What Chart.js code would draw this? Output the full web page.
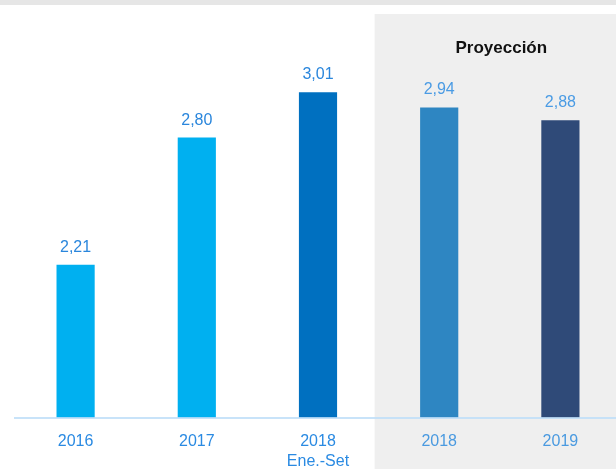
<!DOCTYPE html>
<html>
<head>
<meta charset="utf-8">
<script src="https://cdn.jsdelivr.net/npm/chart.js@4/dist/chart.umd.min.js"></script>
<style>
  body { margin: 0; background: #fff; overflow: hidden; }
  #wrap { width: 621px; height: 469px; position: relative; }
</style>
</head>
<body>
<div id="wrap"><canvas id="barChart"></canvas></div>
<script>
const labels = ['2016', '2017', ['2018', 'Ene.-Set'], '2018', '2019'];
const values = [2.21, 2.80, 3.01, 2.94, 2.88];
const valueText = ['2,21', '2,80', '3,01', '2,94', '2,88'];
const barColors = ['#00b0f0', '#00b0f0', '#0070c0', '#2e86c2', '#2f4a78'];
const labelColors = ['#2a86dc', '#2a86dc', '#2a86dc', '#4a9be4', '#4a9be4'];
const tickColors = ['#2a8ae2', '#2a8ae2', '#2a8ae2', '#4a9ae0', '#4a9ae0'];
const projTitle = 'Proyección';

const FONT = '"Liberation Sans", Arial, sans-serif';
const VIEW_W = 616;

// gray bands, projection title, value labels and the axis line
const decor = {
    id: 'decor',
    beforeDraw(chart) {
        const { ctx, scales: { x } } = chart;
        const split = (x.getPixelForValue(2) + x.getPixelForValue(3)) / 2;
        ctx.save();
        ctx.fillStyle = '#e6e6e6';
        ctx.fillRect(0, 0, chart.width, 5);
        ctx.fillStyle = '#efefef';
        ctx.fillRect(split - 4, 14, chart.width - split + 4, chart.height - 14);
        ctx.fillStyle = '#111';
        ctx.font = 'bold 17px ' + FONT;
        ctx.textAlign = 'center';
        ctx.textBaseline = 'alphabetic';
        ctx.fillText(projTitle, (split + VIEW_W) / 2 + 4, 53);
        ctx.restore();
    },
    afterDatasetsDraw(chart) {
        const { ctx, chartArea } = chart;
        const meta = chart.getDatasetMeta(0);
        ctx.save();
        ctx.strokeStyle = 'rgba(190, 222, 248, 0.85)';
        ctx.lineWidth = 2;
        ctx.beginPath();
        ctx.moveTo(14, chartArea.bottom);
        ctx.lineTo(chart.width, chartArea.bottom);
        ctx.stroke();
        ctx.font = '16px ' + FONT;
        ctx.textAlign = 'center';
        ctx.textBaseline = 'alphabetic';
        meta.data.forEach((bar, i) => {
            ctx.fillStyle = labelColors[i];
            ctx.fillText(valueText[i], bar.x, bar.y - 13);
        });
        ctx.restore();
    }
};

new Chart(document.getElementById('barChart'), {
    type: 'bar',
    data: {
        labels,
        datasets: [{
            data: values,
            backgroundColor: barColors,
            categoryPercentage: 1,
            barPercentage: 0.315
        }]
    },
    options: {
        responsive: true,
        maintainAspectRatio: false,
        animation: false,
        layout: { padding: { top: 6, left: 15, right: 0, bottom: 0 } },
        scales: {
            x: {
                grid: { display: false, drawTicks: false },
                border: { display: false },
                afterFit: (scale) => { scale.height = 51; },
                ticks: {
                    padding: 14,
                    color: (c) => tickColors[c.index],
                    font: { family: FONT, size: 16, lineHeight: 1.25 }
                }
            },
            y: {
                display: false,
                min: 1.5,
                max: 3.41
            }
        },
        plugins: {
            legend: { display: false },
            tooltip: { enabled: false }
        }
    },
    plugins: [decor]
});
</script>
</body>
</html>
